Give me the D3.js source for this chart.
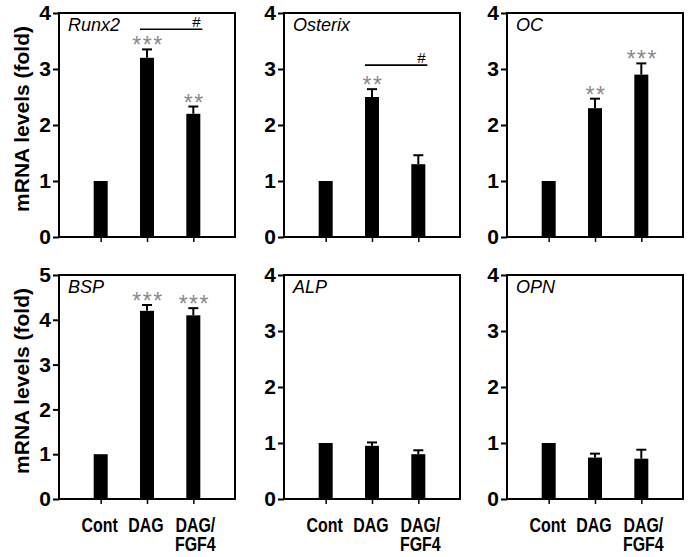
<!DOCTYPE html>
<html><head><meta charset="utf-8">
<script src="https://cdn.jsdelivr.net/npm/d3@7/dist/d3.min.js"></script>
<style>
body{margin:0;background:#fff;}
svg{display:block;}
</style></head>
<body>
<svg id="chart" width="690" height="557"></svg>
<script>
// ---- data ----
const genes = ["Runx2", "Osterix", "OC", "BSP", "ALP", "OPN"];
const categories = ["Cont", "DAG", "DAG/FGF4"];
const runx2 = [1, 3.2, 2.2];
const osterix = [1, 2.5, 1.3];
const oc = [1, 2.3, 2.9];
const bsp = [1, 4.2, 4.1];
const alp = [1, 0.95, 0.8];
const opn = [1, 0.74, 0.72];
const runx2Err = [0, 0.15, 0.13];
const osterixErr = [0, 0.14, 0.16];
const ocErr = [0, 0.17, 0.2];
const bspErr = [0, 0.13, 0.16];
const alpErr = [0, 0.06, 0.07];
const opnErr = [0, 0.07, 0.16];
const runx2Stars = ["", "***", "**"];
const osterixStars = ["", "**", ""];
const ocStars = ["", "**", "***"];
const bspStars = ["", "***", "***"];
const alpStars = ["", "", ""];
const opnStars = ["", "", ""];
const yMaxes = [4, 4, 4, 5, 4, 4];
const yTicks4 = [0, 1, 2, 3, 4];
const yTicks5 = [0, 1, 2, 3, 4, 5];
// significance bracket (#) between DAG and DAG/FGF4: level in data units
const hashLevel = [3.71, 3.07, null, null, null, null];

const values = [runx2, osterix, oc, bsp, alp, opn];
const errs = [runx2Err, osterixErr, ocErr, bspErr, alpErr, opnErr];
const stars = [runx2Stars, osterixStars, ocStars, bspStars, alpStars, opnStars];

// ---- layout ----
const svg = d3.select("#chart");
const panelW = 176, panelH = 224;
const lefts = [59, 284, 507];
const tops = [13, 275];
const barW = 14, capW = 10;
const FONT = "Arial, 'Liberation Sans', sans-serif";

genes.forEach((gene, gi) => {
  const row = Math.floor(gi / 3), col = gi % 3;
  const L = lefts[col], T = tops[row];
  const g = svg.append("g").attr("transform", `translate(${L},${T})`);
  const x = d3.scalePoint().domain(categories).range([0, panelW]).padding(0.9);
  const y = d3.scaleLinear().domain([0, yMaxes[gi]]).range([panelH, 0]);

  // y axis
  const ya = g.append("g").call(d3.axisLeft(y).tickValues(yMaxes[gi] === 5 ? yTicks5 : yTicks4)
      .tickSize(6).tickPadding(2).tickFormat(d3.format("d")));
  ya.select(".domain").remove();
  ya.selectAll("line").attr("stroke", "#000").attr("stroke-width", 2);
  ya.selectAll("text").attr("font-family", FONT)
    .attr("font-size", 21).attr("font-weight", "bold").attr("fill", "#000");

  // x axis ticks
  const xa = g.append("g").attr("transform", `translate(0,${panelH})`)
    .call(d3.axisBottom(x).tickSize(5).tickFormat(""));
  xa.select(".domain").remove();
  xa.selectAll("line").attr("stroke", "#000").attr("stroke-width", 1.5);

  // bars
  g.selectAll(".bar").data(categories).enter().append("rect")
    .attr("x", d => x(d) - barW / 2)
    .attr("y", (d, i) => y(values[gi][i]))
    .attr("width", barW)
    .attr("height", (d, i) => panelH - y(values[gi][i]))
    .attr("fill", "#000");

  // error bars (upper only)
  categories.forEach((c, i) => {
    const e = errs[gi][i];
    if (!e) return;
    const v = values[gi][i];
    g.append("line").attr("x1", x(c)).attr("x2", x(c))
      .attr("y1", y(v)).attr("y2", y(v + e)).attr("stroke", "#000").attr("stroke-width", 2);
    g.append("line").attr("x1", x(c) - capW / 2).attr("x2", x(c) + capW / 2)
      .attr("y1", y(v + e)).attr("y2", y(v + e)).attr("stroke", "#000").attr("stroke-width", 2);
  });

  // stars
  categories.forEach((c, i) => {
    const s = stars[gi][i];
    if (!s) return;
    const top = y(values[gi][i] + errs[gi][i]);
    g.append("text").attr("x", x(c) + 1).attr("y", top - 9 + 13)
      .attr("text-anchor", "middle")
      .attr("font-family", FONT)
      .attr("font-size", 23).attr("letter-spacing", 1.5)
      .attr("fill", "#8a8a8a").text(s);
  });

  // # bracket
  if (hashLevel[gi] != null) {
    const yl = y(hashLevel[gi]);
    const x1 = x(categories[1]) - barW / 2, x2 = x(categories[2]) + barW / 2 + 2;
    g.append("line").attr("x1", x1).attr("x2", x2).attr("y1", yl).attr("y2", yl)
      .attr("stroke", "#000").attr("stroke-width", 1.6);
    g.append("text").attr("x", x(categories[2]) + 3).attr("y", yl - 2.5)
      .attr("text-anchor", "middle")
      .attr("font-family", FONT)
      .attr("font-size", 15).attr("fill", "#000").text("#");
  }

  // frame
  g.append("rect").attr("x", 0).attr("y", 0).attr("width", panelW).attr("height", panelH)
    .attr("fill", "none").attr("stroke", "#000").attr("stroke-width", 2);

  // gene label
  g.append("text").attr("x", 9).attr("y", 18)
    .attr("font-family", FONT)
    .attr("font-size", 18).attr("font-style", "italic").attr("fill", "#000").text(gene);

  // x labels on bottom row (condensed bold)
  if (row === 1) {
    categories.forEach(c => {
      const parts = c === "DAG/FGF4" ? ["DAG/", "FGF4"] : [c];
      const t = g.append("g")
        .attr("transform", `translate(${x(c) + (parts.length > 1 ? 2 : -1)},${panelH + 33}) scale(0.76,1)`)
        .append("text").attr("text-anchor", "middle")
        .attr("font-family", FONT)
        .attr("font-size", 21).attr("font-weight", "bold").attr("fill", "#000");
      parts.forEach((p, k) => {
        t.append("tspan").attr("x", 0).attr("dy", k === 0 ? 0 : 19).text(p);
      });
    });
  }

  // y title on first column
  if (col === 0) {
    svg.append("text")
      .attr("transform", `translate(29,${T + panelH / 2 - 6}) rotate(-90)`)
      .attr("text-anchor", "middle")
      .attr("font-family", FONT)
      .attr("font-size", 21).attr("font-weight", "bold").attr("fill", "#000")
      .text("mRNA levels (fold)");
  }
});
</script>
</body></html>
